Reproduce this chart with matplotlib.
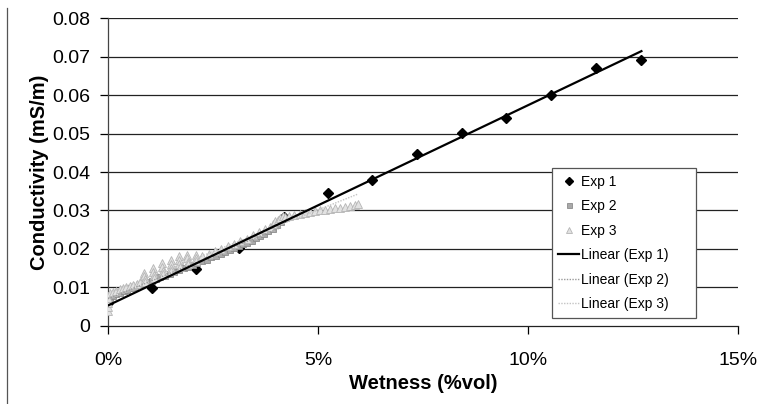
import numpy as np
import matplotlib.pyplot as plt
from matplotlib.lines import Line2D
from matplotlib.ticker import FuncFormatter

plt.rcParams["font.family"] = ["Liberation Sans", "DejaVu Sans"]

# Exp 1 : mesures ponctuelles
exp1_wet = [0.00, 1.04, 2.10, 3.13, 4.19, 5.25, 6.29, 7.36, 8.43, 9.48, 10.55, 11.63, 12.70]
exp1_cond = [0.0060, 0.0098, 0.0148, 0.0202, 0.0282, 0.0345, 0.0379, 0.0448, 0.0501, 0.0540, 0.0600, 0.0671, 0.0692]

# Exp 2 : suivi continu (carres gris)
exp2_wet = [0.00, 0.05, 0.12, 0.20, 0.28, 0.37, 0.46, 0.55, 0.64, 0.74, 0.84, 0.94, 1.04, 1.14,
            1.25, 1.36, 1.47, 1.58, 1.69, 1.80, 1.91, 2.02, 2.13, 2.24, 2.35, 2.46, 2.57, 2.68,
            2.79, 2.90, 3.01, 3.12, 3.22, 3.32, 3.42, 3.52, 3.62, 3.72, 3.82, 3.92, 4.02, 4.12]
exp2_cond = [0.0071, 0.0074, 0.0079, 0.0083, 0.0086, 0.0090, 0.0094, 0.0098, 0.0101, 0.0106,
             0.0110, 0.0114, 0.0118, 0.0121, 0.0126, 0.0131, 0.0136, 0.0140, 0.0145, 0.0150,
             0.0153, 0.0158, 0.0164, 0.0168, 0.0172, 0.0178, 0.0183, 0.0186, 0.0191, 0.0197,
             0.0203, 0.0207, 0.0212, 0.0216, 0.0222, 0.0228, 0.0234, 0.0240, 0.0247, 0.0253,
             0.0262, 0.0270]

# Exp 3 : suivi continu (triangles clairs)
exp3_wet = [0.00, 0.00, 0.00, 0.00,
            0.05, 0.12, 0.20, 0.28, 0.36, 0.44, 0.52, 0.60, 0.68, 0.76,
            0.86, 0.86, 0.87, 0.88,
            1.08, 1.08, 1.09, 1.10,
            1.29, 1.29, 1.30, 1.31,
            1.49, 1.49, 1.50, 1.51,
            1.69, 1.69, 1.70, 1.71,
            1.89, 1.89, 1.90, 1.91,
            2.09, 2.09, 2.10,
            2.25, 2.40, 2.55, 2.70, 2.85, 3.00, 3.15, 3.30, 3.45, 3.60, 3.75, 3.85,
            3.92, 3.98, 4.04, 4.10, 4.16, 4.22,
            4.32, 4.44, 4.56, 4.68, 4.80, 4.92, 5.04, 5.16, 5.28, 5.40, 5.52, 5.64, 5.76, 5.88, 5.96]
exp3_cond = [0.0040, 0.0050, 0.0061, 0.0072,
             0.0086, 0.0089, 0.0092, 0.0095, 0.0098, 0.0101, 0.0104, 0.0107, 0.0110, 0.0113,
             0.0138, 0.0129, 0.0121, 0.0114,
             0.0150, 0.0141, 0.0132, 0.0124,
             0.0163, 0.0153, 0.0143, 0.0134,
             0.0171, 0.0161, 0.0151, 0.0143,
             0.0182, 0.0172, 0.0162, 0.0153,
             0.0185, 0.0176, 0.0167, 0.0160,
             0.0185, 0.0177, 0.0170,
             0.0182, 0.0188, 0.0194, 0.0200, 0.0207, 0.0214, 0.0220, 0.0227, 0.0236, 0.0244, 0.0252, 0.0258,
             0.0266, 0.0272, 0.0276, 0.0280, 0.0286, 0.0284,
             0.0285, 0.0288, 0.0290, 0.0293, 0.0296, 0.0298, 0.0300, 0.0302, 0.0304, 0.0306,
             0.0307, 0.0310, 0.0312, 0.0314, 0.0318]

y_ticks = [0, 0.01, 0.02, 0.03, 0.04, 0.05, 0.06, 0.07, 0.08]
x_ticks = [0, 5, 10, 15]

fig = plt.figure(figsize=(7.61, 4.04), dpi=100)
ax = fig.add_axes([0.1419, 0.1931, 0.8279, 0.7623])

for y in y_ticks[1:]:
    ax.axhline(y, color="#222222", linewidth=0.9, zorder=1)

ax.plot(exp1_wet, exp1_cond, linestyle="none", marker="D", markersize=5.5,
        color="black", label="Exp 1", zorder=3)
ax.plot(exp2_wet, exp2_cond, linestyle="none", marker="s", markersize=4.5,
        markerfacecolor="#a9a9a9", markeredgecolor="#8c8c8c", markeredgewidth=0.6,
        label="Exp 2", zorder=4)
ax.plot(exp3_wet, exp3_cond, linestyle="none", marker="^", markersize=5.5,
        markerfacecolor="#e2e2e2", markeredgecolor="#b5b5b5", markeredgewidth=0.6,
        label="Exp 3", zorder=5)

# droites de tendance (moindres carres, comme Excel)
fits = [
    (exp1_wet, exp1_cond, "black", "-", 1.6, "Linear (Exp 1)"),
    (exp2_wet, exp2_cond, "#9a9a9a", (0, (1, 1)), 1.0, "Linear (Exp 2)"),
    (exp3_wet, exp3_cond, "#c4c4c4", (0, (1, 1)), 1.0, "Linear (Exp 3)"),
]

for wx, wy, col, ls, lw, lab in fits:
    slope, intercept = np.polyfit(wx, wy, 1)
    xs = np.array([min(wx), max(wx)])
    ax.plot(xs, intercept + slope * xs, color=col, linestyle=ls, linewidth=lw,
            label=lab, zorder=6 if col == "black" else 5.5)

ax.set_xlim(0, 15)
ax.set_ylim(0, 0.08)

ax.set_xticks(x_ticks)
ax.set_yticks(y_ticks)

ax.xaxis.set_major_formatter(FuncFormatter(lambda v, p: f"{v:.0f}%"))
ax.yaxis.set_major_formatter(FuncFormatter(lambda v, p: "0" if v == 0 else f"{v:.2f}"))

ax.tick_params(axis="x", direction="out", length=6, width=0.9, pad=13, labelsize=14)
ax.tick_params(axis="y", direction="out", length=6, width=0.9, pad=7, labelsize=14)

for side in ["top", "right"]:
    ax.spines[side].set_visible(False)

ax.spines["left"].set_color("#444444")
ax.spines["bottom"].set_color("#222222")
ax.spines["left"].set_linewidth(0.9)
ax.spines["bottom"].set_linewidth(0.9)

ax.set_xlabel("Wetness (%vol)", fontsize=14.5, fontweight="bold", labelpad=3)
ax.set_ylabel("Conductivity (mS/m)", fontsize=14.5, fontweight="bold", labelpad=2)

leg = ax.legend(loc="upper left", bbox_to_anchor=(0.705, 0.041, 0.228, 0.471), mode="expand",
                fontsize=10, frameon=True, fancybox=False, framealpha=1, markerscale=0.8,
                handlelength=1.5, handletextpad=0.15, labelspacing=0.76,
                borderpad=0.45, borderaxespad=0)
leg.get_frame().set_edgecolor("#555555")
leg.get_frame().set_linewidth(0.9)

# trait vertical a gauche de l'image
fig.add_artist(Line2D([0.0096, 0.0096], [0.0, 0.98], color="#555555", linewidth=0.9))

plt.savefig("out.png", dpi=100)
plt.close()
